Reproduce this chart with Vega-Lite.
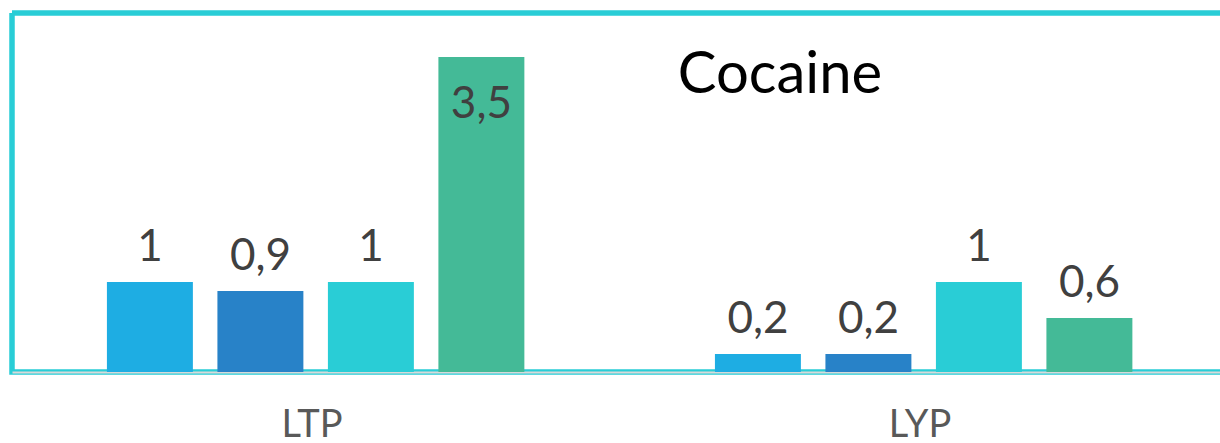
{
  "$schema": "https://vega.github.io/schema/vega-lite/v6.json",
  "width": 1208,
  "height": 359,
  "autosize": {"type": "none"},
  "padding": {"left": 12, "top": 13, "right": 0, "bottom": 71},
  "title": {"text": "Cocaine", "font": "Lato", "fontSize": 58, "fontWeight": "normal", "color": "#000000", "anchor": "middle", "orient": "top", "baseline": "alphabetic", "offset": -138, "dx": 164},
  "data": {"values": [
    {"group": "LTP", "series": "1", "value": 1},
    {"group": "LTP", "series": "2", "value": 0.9},
    {"group": "LTP", "series": "3", "value": 1},
    {"group": "LTP", "series": "4", "value": 3.5},
    {"group": "LYP", "series": "1", "value": 0.2},
    {"group": "LYP", "series": "2", "value": 0.2},
    {"group": "LYP", "series": "3", "value": 1},
    {"group": "LYP", "series": "4", "value": 0.6}
  ]},
  "encoding": {
    "x": {"field": "group", "type": "nominal", "sort": ["LTP", "LYP"], "title": null,
      "scale": {"paddingInner": 0.0132, "paddingOuter": 0},
      "axis": {"ticks": false, "domainColor": "#D9D9D9", "domainWidth": 2, "labelFont": "Lato", "labelFontSize": 38, "labelColor": "#595959", "labelBaseline": "alphabetic", "labelPadding": 64, "labelAngle": 0}},
    "xOffset": {"field": "series", "type": "nominal", "sort": ["1", "2", "3", "4"],
      "scale": {"paddingInner": 0.222, "paddingOuter": 0.826, "align": 0.52}},
    "y": {"field": "value", "type": "quantitative", "scale": {"domain": [0, 3.99], "nice": false, "zero": true}, "axis": null}
  },
  "layer": [
    {"mark": {"type": "bar"},
     "encoding": {"color": {"field": "series", "type": "nominal", "legend": null,
       "scale": {"domain": ["1", "2", "3", "4"], "range": ["#1EADE3", "#2882C8", "#29CDD6", "#44BA97"]}}}},
    {"transform": [{"filter": "datum.value < 3"}],
     "mark": {"type": "text", "baseline": "alphabetic", "dy": -21, "font": "Lato", "fontSize": 44, "color": "#404040"},
     "encoding": {"text": {"field": "value", "type": "quantitative", "format": ".1~f"}}},
    {"transform": [{"filter": "datum.value >= 3"}],
     "mark": {"type": "text", "baseline": "alphabetic", "dy": 61, "font": "Lato", "fontSize": 44, "color": "#404040"},
     "encoding": {"text": {"field": "value", "type": "quantitative", "format": ".1~f"}}}
  ],
  "config": {
    "view": {"stroke": "#29CDD6", "strokeWidth": 5.5, "strokeDash": [1208, 359, 1567, 0]},
    "locale": {"number": {"decimal": ",", "thousands": ".", "grouping": [3], "currency": ["", " €"]}}
  }
}
